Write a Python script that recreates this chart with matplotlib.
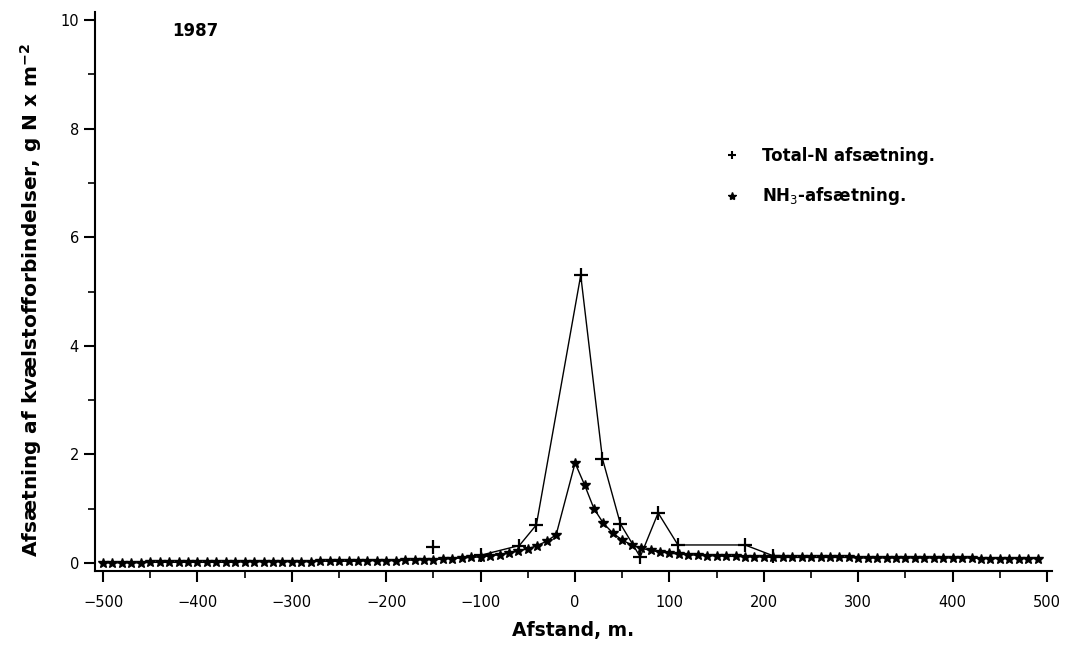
import matplotlib
matplotlib.use("Agg")
import matplotlib.pyplot as plt
from matplotlib.ticker import MultipleLocator
from matplotlib.lines import Line2D

#### Afsætning af kvælstof 1987 ####

# NH3-afsætning, hver 10 m
nh3_x = [-500, -490, -480, -470, -460, -450, -440, -430, -420, -410,
         -400, -390, -380, -370, -360, -350, -340, -330, -320, -310,
         -300, -290, -280, -270, -260, -250, -240, -230, -220, -210,
         -200, -190, -180, -170, -160, -150, -140, -130, -120, -110,
         -100, -90, -80, -70, -60, -50, -40, -30, -20,
         0, 10, 20, 30, 40, 50, 60, 70, 80, 90,
         100, 110, 120, 130, 140, 150, 160, 170, 180, 190,
         200, 210, 220, 230, 240, 250, 260, 270, 280, 290,
         300, 310, 320, 330, 340, 350, 360, 370, 380, 390,
         400, 410, 420, 430, 440, 450, 460, 470, 480, 490]
nh3_y = [0.00, 0.00, 0.00, 0.00, 0.00, 0.01, 0.01, 0.01, 0.01, 0.01,
         0.01, 0.01, 0.01, 0.01, 0.01, 0.02, 0.02, 0.02, 0.02, 0.02,
         0.02, 0.02, 0.02, 0.03, 0.03, 0.03, 0.03, 0.03, 0.04, 0.04,
         0.04, 0.04, 0.05, 0.05, 0.06, 0.06, 0.07, 0.08, 0.09, 0.10,
         0.11, 0.13, 0.15, 0.18, 0.22, 0.26, 0.32, 0.40, 0.52,
         1.84, 1.44, 1.00, 0.73, 0.55, 0.42, 0.33, 0.27, 0.23, 0.20,
         0.18, 0.16, 0.15, 0.14, 0.13, 0.13, 0.12, 0.12, 0.11, 0.11,
         0.11, 0.10, 0.10, 0.10, 0.10, 0.10, 0.10, 0.10, 0.10, 0.10,
         0.09, 0.09, 0.09, 0.09, 0.09, 0.09, 0.09, 0.09, 0.09, 0.09,
         0.09, 0.09, 0.09, 0.08, 0.08, 0.08, 0.08, 0.08, 0.08, 0.08]

# Total-N afsætning
tot_x = [-100, -59, -41, 6, 29, 48, 69, 88, 109, 180, 210]
tot_y = [0.14, 0.32, 0.70, 5.30, 1.92, 0.72, 0.11, 0.92, 0.33, 0.33, 0.13]
# enkeltpunkt uden linje
tot_single_x = [-150]
tot_single_y = [0.30]

plt.rcParams['font.family'] = ['DejaVu Sans']

fig = plt.figure(figsize=(10.69, 6.48), dpi=100)
ax = fig.add_axes([0.0889, 0.1188, 0.895, 0.8627])

ax.plot(nh3_x, nh3_y, color='black', linewidth=1.0, marker='*',
        markersize=7, markeredgewidth=1.0)
ax.plot(tot_x, tot_y, color='black', linewidth=1.0, marker='+',
        markersize=10, markeredgewidth=1.6)
ax.plot(tot_single_x, tot_single_y, linestyle='none', color='black',
        marker='+', markersize=10, markeredgewidth=1.6)

ax.set_xlim(-508.5, 505)
ax.set_ylim(-0.15, 10.15)

ax.spines['top'].set_visible(False)
ax.spines['right'].set_visible(False)
ax.spines['left'].set_linewidth(1.5)
ax.spines['bottom'].set_linewidth(1.5)

ax.xaxis.set_major_locator(MultipleLocator(100))
ax.xaxis.set_minor_locator(MultipleLocator(50))
ax.yaxis.set_major_locator(MultipleLocator(2))
ax.yaxis.set_minor_locator(MultipleLocator(1))
ax.tick_params(which='major', direction='out', length=8, width=1.5,
               labelsize=10.5)
ax.tick_params(which='minor', direction='out', length=5, width=1.2)
ax.tick_params(axis='x', which='major', pad=9)
ax.set_xticks(range(-500, 501, 100))
ax.set_xticklabels(['\u2212500', '\u2212400', '\u2212300', '\u2212200', '\u2212100',
                    '0', '100', '200', '300', '400', '500'])

ax.set_xlabel('Afstand, m.', fontsize=13.5, fontweight='bold', labelpad=8)
ax.set_ylabel('Afsætning af kvælstofforbindelser, g N x m$^{\\mathbf{-2}}$',
              fontsize=14.5, fontweight='bold')
ax.yaxis.set_label_coords(-0.053, 0.485)

ax.text(-427, 9.8, '1987', fontsize=12, fontweight='bold', va='center')

handles = [Line2D([], [], color='black', linestyle='none', marker='+',
                  markersize=6, markeredgewidth=1.5),
           Line2D([], [], color='black', linestyle='none', marker='*',
                  markersize=6)]
ax.legend(handles, ['Total-N afsætning.', 'NH$_3$-afsætning.'],
          loc='upper left', bbox_to_anchor=(0.64, 0.786), frameon=False,
          handlelength=1.2, handletextpad=1.2, labelspacing=1.25,
          prop={'weight': 'bold', 'size': 12})

fig.savefig('out.png', dpi=100)
